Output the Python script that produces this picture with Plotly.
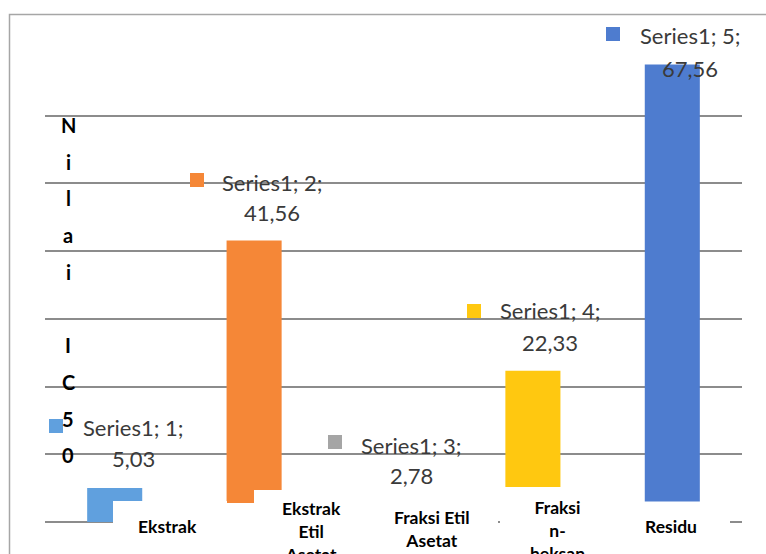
import plotly.graph_objects as go

# ---- data ----
categories = ["Ekstrak", "Ekstrak Etil Asetat", "Fraksi Etil Asetat", "Fraksi n-heksan", "Residu"]
values = [5.03, 41.56, 2.78, 22.33, 67.56]
value_text = ["5,03", "41,56", "2,78", "22,33", "67,56"]
series_names = ["Series1; 1;", "Series1; 2;", "Series1; 3;", "Series1; 4;", "Series1; 5;"]
cat_label_text = ["Ekstrak", "Ekstrak<br>Etil<br>Asetat", "Fraksi Etil<br>Asetat", "Fraksi<br>n-<br>heksan", "Residu"]
y_title_letters = ["N", "i", "l", "a", "i", "", "I", "C", "5", "0"]
colors = ["#60A0DE", "#F58737", "#A5A5A5", "#FFC810", "#4E7CCF"]

W, H = 766, 554
L, R, T, B = 45, 742, 48, 522   # plot area in pixels

def px(p):   # pixel x -> paper
    return (p - L) / (R - L)

def py(p):   # pixel y -> paper
    return (B - p) / (B - T)

fig = go.Figure()
fig.add_trace(go.Bar(
    x=list(range(len(categories))), y=values,
    marker=dict(color=colors, line=dict(width=0)),
    width=0.395, hoverinfo="skip", showlegend=False,
))

FONT = "Lato"
ann = []
shapes = []

# data labels (square key + two text lines)
lbl_pos = [  # (square_x, square_y, text_x, line1_y, line2_y) in pixels
    (56, 426, 133, 427, 458),
    (197, 180, 272, 183, 213),
    (335, 442, 411, 445, 475),
    (474, 311, 550, 310, 342),
    (613, 34, 690, 35, 68),
]
for i, (sx, sy, tx, y1, y2) in enumerate(lbl_pos):
    shapes.append(dict(type="rect", xref="paper", yref="paper",
                       x0=px(sx - 7), x1=px(sx + 7), y0=py(sy + 7), y1=py(sy - 7),
                       fillcolor=colors[i], line=dict(width=0), layer="above"))
    ann.append(dict(x=px(tx), y=py(y1), xref="paper", yref="paper", text=series_names[i],
                    showarrow=False, xanchor="center", yanchor="middle",
                    font=dict(family=FONT, size=22, color="#3A3A3A")))
    ann.append(dict(x=px(tx), y=py(y2), xref="paper", yref="paper", text=value_text[i],
                    showarrow=False, xanchor="center", yanchor="middle",
                    font=dict(family=FONT, size=22, color="#3A3A3A")))

# opaque label boxes covering bar bottoms (as in the reference)
covers = [(113, 227, 501), (227, 254, 503), (254, 366, 490), (366, 498, 497),
          (500, 612, 487), (612, 730, 501.5)]
for x0, x1, y0 in covers:
    shapes.append(dict(type="rect", xref="paper", yref="paper",
                       x0=px(x0), x1=px(x1), y0=py(H + 20), y1=py(y0),
                       fillcolor="white", line=dict(width=0), layer="above"))

# category labels
cat_pos = [(167, 526), (311, 531), (432, 529), (557, 530), (671, 526)]
for i, (cx, cy) in enumerate(cat_pos):
    ann.append(dict(x=px(cx), y=py(cy), xref="paper", yref="paper", text="<b>%s</b>" % cat_label_text[i],
                    showarrow=False, xanchor="center", yanchor="middle", align="center",
                    font=dict(family=FONT, size=17.5, color="#000000")))

# vertical axis title
for k, ch in enumerate(y_title_letters):
    if ch:
        ann.append(dict(x=px(68), y=py(125 + k * 36.7), xref="paper", yref="paper",
                        text="<b>%s</b>" % ch, showarrow=False, xanchor="center", yanchor="middle",
                        font=dict(family=FONT, size=20, color="#000000")))

# outer chart border (top and left edges visible)
shapes.append(dict(type="rect", xref="paper", yref="paper",
                   x0=px(9.5), x1=px(W + 20), y0=py(H + 20), y1=py(14.5),
                   line=dict(color="#A6A6A6", width=1.5), fillcolor="rgba(0,0,0,0)", layer="above"))

fig.update_layout(
    width=W, height=H,
    margin=dict(l=L, r=W - R, t=T, b=H - B, pad=0),
    paper_bgcolor="white", plot_bgcolor="white",
    bargap=0.6,
    xaxis=dict(range=[-0.5, len(categories) - 0.5], showticklabels=False, showgrid=False,
               zeroline=False, showline=False, ticks=""),
    yaxis=dict(range=[0, 70], dtick=10, showticklabels=False, showgrid=True,
               gridcolor="#8C8C8C", gridwidth=2, zeroline=True, zerolinecolor="#8C8C8C",
               zerolinewidth=2, showline=False, ticks=""),
    annotations=ann, shapes=shapes,
)

fig.write_html("out.html")
